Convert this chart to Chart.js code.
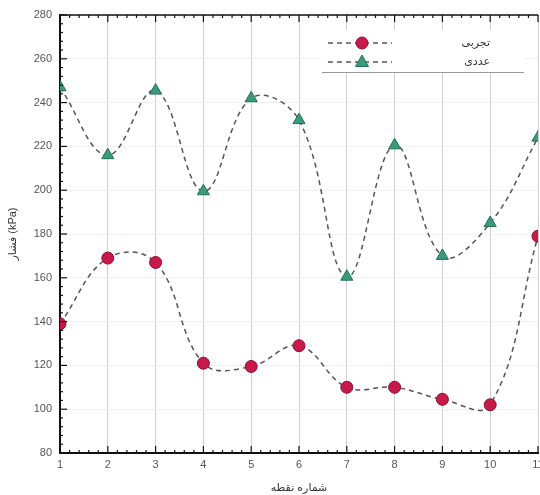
<!DOCTYPE html>
<html>
<head>
<meta charset="utf-8">
<script src="https://cdn.jsdelivr.net/npm/chart.js@4.4.1/dist/chart.umd.min.js"></script>
<style>
html,body{margin:0;padding:0;background:#fff;overflow:hidden;width:540px;height:495px;}
#wrap{position:absolute;left:0;top:0;width:580px;height:495px;}
</style>
</head>
<body>
<div id="wrap"><canvas id="c" width="580" height="495"></canvas></div>
<script>
// ---- data ----
const points = [1, 2, 3, 4, 5, 6, 7, 8, 9, 10, 11];
const seriesMeasured = [139, 169, 167, 121, 119.5, 129, 110, 110, 104.5, 102, 179];
const seriesModel = [247, 216, 245.5, 199.5, 242, 232, 160.5, 220.5, 170, 185, 224];
const yTicks = [80, 100, 120, 140, 160, 180, 200, 220, 240, 260, 280];
const xTicks = [1, 2, 3, 4, 5, 6, 7, 8, 9, 10, 11];
const labelMeasured = 'تجربی';
const labelModel = 'عددی';
const xTitle = 'شماره نقطه';
const yTitle = 'فشار (kPa)';

const FONT = '"Liberation Sans", "DejaVu Sans", sans-serif';

const redColor = '#c81a4a';
const greenColor = '#3a9a7c';

const toXY = (arr) => arr.map((v, i) => ({x: points[i], y: v}));

const axesPlugin = {
  id: 'axesPlugin',
  afterDraw(chart) {
    const ctx = chart.ctx;
    const a = chart.chartArea;
    const xs = chart.scales.x, ys = chart.scales.y;
    ctx.save();
    ctx.strokeStyle = '#111';
    ctx.lineWidth = 1.5;
    ctx.beginPath(); ctx.moveTo(a.left, a.top); ctx.lineTo(a.right, a.top); ctx.stroke();
    ctx.lineWidth = 1.2;
    for (let v = 80; v <= 280; v += 4) {
      const y = ys.getPixelForValue(v);
      const major = (v % 20 === 0);
      const len = major ? 7 : 3;
      ctx.beginPath(); ctx.moveTo(a.left, y); ctx.lineTo(a.left + len, y); ctx.stroke();
    }
    for (let v = 1; v <= 11.0001; v += 0.2) {
      const x = xs.getPixelForValue(v);
      const major = Math.abs(v - Math.round(v)) < 1e-6;
      const len = major ? 7 : 3;
      ctx.beginPath(); ctx.moveTo(x, a.bottom); ctx.lineTo(x, a.bottom - len); ctx.stroke();
      ctx.beginPath(); ctx.moveTo(x, a.top); ctx.lineTo(x, a.top + len); ctx.stroke();
    }
    ctx.restore();

    // legend
    ctx.save();
    const lx0 = 322, lx1 = 524;
    ctx.fillStyle = '#fff';
    ctx.fillRect(lx0, 30, lx1 - lx0, 42);
    ctx.strokeStyle = '#999';
    ctx.lineWidth = 1;
    ctx.beginPath(); ctx.moveTo(lx0, 72.5); ctx.lineTo(lx1, 72.5); ctx.stroke();
    const entries = [
      {y: 43, label: labelMeasured, style: 'circle', color: redColor},
      {y: 62, label: labelModel, style: 'triangle', color: greenColor}
    ];
    entries.forEach(e => {
      ctx.strokeStyle = '#555';
      ctx.lineWidth = 1.5;
      ctx.setLineDash([5, 4]);
      ctx.beginPath(); ctx.moveTo(328, e.y); ctx.lineTo(392, e.y); ctx.stroke();
      ctx.setLineDash([]);
      ctx.fillStyle = e.color;
      ctx.strokeStyle = e.style === 'circle' ? '#8a0f30' : '#25705a';
      ctx.lineWidth = 1;
      ctx.beginPath();
      if (e.style === 'circle') {
        ctx.arc(362, e.y, 6, 0, Math.PI * 2);
      } else {
        ctx.moveTo(362, e.y - 7); ctx.lineTo(368.5, e.y + 4.5); ctx.lineTo(355.5, e.y + 4.5); ctx.closePath();
      }
      ctx.fill(); ctx.stroke();
      ctx.fillStyle = '#333';
      ctx.font = '11px ' + FONT;
      ctx.textAlign = 'right';
      ctx.textBaseline = 'middle';
      ctx.fillText(e.label, 490, e.y);
    });
    ctx.restore();
  }
};

new Chart(document.getElementById('c'), {
  type: 'line',
  data: {
    datasets: [
      {
        label: labelMeasured,
        data: toXY(seriesMeasured),
        borderColor: '#555',
        borderWidth: 1.5,
        borderDash: [5, 4],
        tension: 0.4,
        pointStyle: 'circle',
        pointRadius: 6,
        pointBackgroundColor: redColor,
        pointBorderColor: '#8a0f30',
        pointBorderWidth: 1
      },
      {
        label: labelModel,
        data: toXY(seriesModel),
        borderColor: '#555',
        borderWidth: 1.5,
        borderDash: [5, 4],
        tension: 0.4,
        pointStyle: 'triangle',
        pointRadius: 7,
        pointBackgroundColor: greenColor,
        pointBorderColor: '#25705a',
        pointBorderWidth: 1
      }
    ]
  },
  options: {
    responsive: false,
    animation: false,
    events: [],
    layout: {padding: {top: 15, right: 42, left: 0, bottom: 0}},
    plugins: {legend: {display: false}, tooltip: {enabled: false}},
    scales: {
      x: {
        type: 'linear',
        min: 1, max: 11,
        afterFit: (s) => { s.height = 42; },
        afterBuildTicks: (s) => { s.ticks = xTicks.map(v => ({value: v})); },
        ticks: {
          color: '#555', font: {family: FONT, size: 11}, padding: 5,
          callback: (v) => String(v), maxRotation: 0, autoSkip: false
        },
        grid: {color: '#cfcfcf', lineWidth: 1, drawTicks: false},
        border: {color: '#111', width: 2},
        title: {display: true, text: xTitle, color: '#333', font: {family: FONT, size: 11}, padding: {top: 4, bottom: 0}}
      },
      y: {
        type: 'linear',
        min: 80, max: 280,
        afterFit: (s) => { s.width = 60; },
        afterBuildTicks: (s) => { s.ticks = yTicks.map(v => ({value: v})); },
        ticks: {color: '#555', font: {family: FONT, size: 11}, padding: 8},
        grid: {color: '#f0f0f0', lineWidth: 1, drawTicks: false},
        border: {color: '#111', width: 2},
        title: {display: true, text: yTitle, color: '#333', font: {family: FONT, size: 11}, padding: {top: 6, bottom: 0}}
      }
    }
  },
  plugins: [axesPlugin]
});
</script>
</body>
</html>
